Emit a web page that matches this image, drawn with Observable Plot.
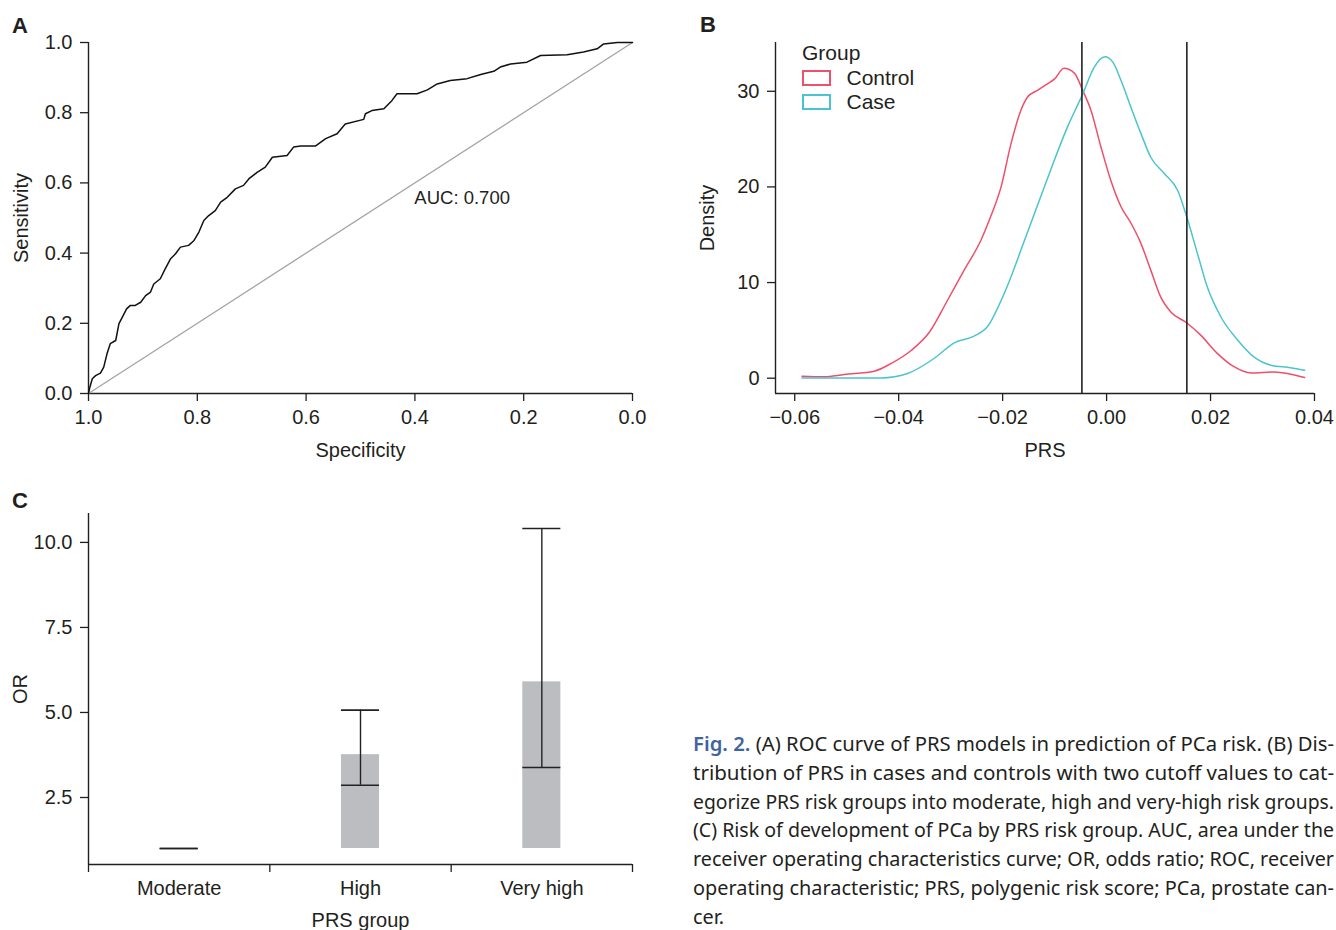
<!DOCTYPE html>
<html>
<head>
<meta charset="utf-8">
<script src="https://cdn.jsdelivr.net/npm/d3@7"></script>
<script src="https://cdn.jsdelivr.net/npm/@observablehq/plot@0.6"></script>
<style>
html, body { margin: 0; padding: 0; background: #fff; }
#root { position: relative; width: 1336px; height: 930px; overflow: hidden; font-family: "Liberation Sans", Arial, Helvetica, sans-serif; color: #231f20; background: #fff; }
.panel { position: absolute; }
.letter { position: absolute; font-weight: bold; font-size: 22px; line-height: 22px; }
.leg { position: absolute; font-size: 21px; line-height: 22px; white-space: nowrap; }
.sw { position: absolute; box-sizing: border-box; border-width: 2px; border-style: solid; background: #fff; }
</style>
</head>
<body>
<div id="root"></div>
<script>
// ---------- DATA ----------
// Panel A: ROC curve (specificity, sensitivity)
const rocPoints = [
  [1.000,0.000],[0.9975,0.018],[0.993,0.042],[0.987,0.051],[0.978,0.058],[0.972,0.075],
  [0.966,0.113],[0.960,0.142],[0.950,0.151],[0.944,0.199],[0.938,0.217],[0.930,0.241],
  [0.923,0.251],[0.914,0.251],[0.904,0.260],[0.895,0.279],[0.886,0.289],[0.880,0.312],
  [0.868,0.327],[0.859,0.355],[0.849,0.384],[0.840,0.398],[0.831,0.417],[0.816,0.422],
  [0.806,0.436],[0.797,0.460],[0.788,0.493],[0.779,0.507],[0.767,0.521],[0.757,0.545],
  [0.745,0.559],[0.730,0.583],[0.715,0.593],[0.705,0.612],[0.690,0.630],[0.675,0.645],
  [0.662,0.673],[0.635,0.678],[0.623,0.702],[0.610,0.705],[0.583,0.705],[0.564,0.726],
  [0.543,0.740],[0.528,0.768],[0.494,0.781],[0.491,0.797],[0.479,0.806],[0.457,0.811],
  [0.442,0.835],[0.433,0.854],[0.396,0.854],[0.377,0.865],[0.359,0.882],[0.335,0.892],
  [0.304,0.897],[0.279,0.909],[0.255,0.918],[0.243,0.930],[0.224,0.939],[0.194,0.944],
  [0.169,0.963],[0.120,0.965],[0.090,0.973],[0.065,0.982],[0.053,0.996],[0.028,1.000],
  [0.000,1.000]
];
const chanceLine = [[1,0],[0,1]];
const aucLabel = {text: "AUC: 0.700", spec: 0.401, sens: 0.558};
const specTicks = [1.0, 0.8, 0.6, 0.4, 0.2, 0.0];
const sensTicks = [0.0, 0.2, 0.4, 0.6, 0.8, 1.0];

// Panel B: PRS density by group (PRS, density)
const seriesNames = ["Control", "Case"];
const densityControl = [
  [-0.0586,0.20],[-0.0543,0.14],[-0.0505,0.39],[-0.0447,0.73],[-0.0415,1.53],[-0.0376,2.9],
  [-0.0341,4.8],[-0.0306,8.15],[-0.0274,11.3],[-0.0242,14.4],[-0.0223,16.9],[-0.0203,20.0],
  [-0.0184,24.5],[-0.0165,28.0],[-0.0152,29.4],[-0.0133,30.1],[-0.0113,30.8],[-0.0100,31.3],
  [-0.0082,32.4],[-0.0062,31.9],[-0.0046,30.1],[-0.0030,28.0],[-0.0011,24.2],[0.0008,20.7],
  [0.0028,17.9],[0.0047,16.2],[0.0066,14.1],[0.0085,11.3],[0.0104,8.5],[0.0124,6.9],
  [0.0154,5.8],[0.0181,4.5],[0.0213,2.6],[0.0245,1.2],[0.0278,0.55],[0.0322,0.66],
  [0.0354,0.42],[0.0381,0.07]
];
const densityCase = [
  [-0.0586,0.03],[-0.0434,0.03],[-0.0383,0.49],[-0.0332,2.06],[-0.0293,3.7],[-0.0255,4.4],
  [-0.0229,5.4],[-0.0197,8.85],[-0.0158,14.4],[-0.0130,18.5],[-0.0104,22.3],[-0.0075,26.3],
  [-0.0046,29.7],[-0.0024,32.5],[-0.0003,33.6],[0.0012,33.05],[0.0028,31.1],[0.0047,28.3],
  [0.0066,25.6],[0.0085,23.1],[0.0111,21.4],[0.0137,19.6],[0.0154,16.9],[0.0175,13.0],
  [0.0194,9.5],[0.0220,6.4],[0.0252,4.0],[0.0284,2.2],[0.0316,1.36],[0.0354,1.1],
  [0.0381,0.84]
];
const cutoffs = [-0.00475, 0.01544];
const prsTicks = [-0.06, -0.04, -0.02, 0.00, 0.02, 0.04];
const densityTicks = [0, 10, 20, 30];

// Panel C: odds ratios by PRS group
const groups = ["Moderate", "High", "Very high"];
const orValues = [1.0, 3.76, 5.90];
const ciLower = [1.0, 2.86, 3.38];
const ciUpper = [1.0, 5.07, 10.41];
const orBaseline = 1;
const orTicks = [2.5, 5.0, 7.5, 10.0];

// Caption
const captionLabel = "Fig. 2.";
const captionLines = [
  "(A) ROC curve of PRS models in prediction of PCa risk. (B) Dis-",
  "tribution of PRS in cases and controls with two cutoff values to cat-",
  "egorize PRS risk groups into moderate, high and very-high risk groups.",
  "(C) Risk of development of PCa by PRS risk group. AUC, area under the",
  "receiver operating characteristics curve; OR, odds ratio; ROC, receiver",
  "operating characteristic; PRS, polygenic risk score; PCa, prostate can-",
  "cer."
];

// ---------- STYLE ----------
const FONT = '"Liberation Sans", Arial, Helvetica, sans-serif';
const INK = "#231f20";
const RED = "#ee4f6b";
const CYAN = "#4ac4ce";
const baseStyle = {fontFamily: FONT, fontSize: "20px", color: INK, background: "transparent", overflow: "visible"};

const root = document.getElementById("root");
function place(el, left, top) {
  const w = document.createElement("div");
  w.className = "panel";
  w.style.left = left + "px";
  w.style.top = top + "px";
  w.appendChild(el);
  root.appendChild(w);
}
function addDiv(cls, text, left, top, extra) {
  const d = document.createElement("div");
  d.className = cls;
  d.textContent = text;
  d.style.left = left + "px";
  d.style.top = top + "px";
  if (extra) Object.assign(d.style, extra);
  root.appendChild(d);
  return d;
}

// ---------- PANEL A ----------
const roc = rocPoints.map(([spec, sens]) => ({spec, sens}));
const chance = chanceLine.map(([spec, sens]) => ({spec, sens}));
const fmt1 = d3.format(".1f");
const plotA = Plot.plot({
  width: 660, height: 470,
  marginLeft: 88, marginRight: 28, marginTop: 42, marginBottom: 77,
  style: baseStyle,
  x: {domain: [1, 0]},
  y: {domain: [0, 1]},
  marks: [
    Plot.axisX({ticks: specTicks, tickFormat: fmt1, tickSize: 8, tickPadding: 8, strokeWidth: 1.3,
      fontSize: 20, label: "Specificity", labelAnchor: "center", labelOffset: 63, labelArrow: "none"}),
    Plot.axisY({ticks: sensTicks, tickFormat: fmt1, tickSize: 8, tickPadding: 8, strokeWidth: 1.3,
      fontSize: 20, label: "Sensitivity", labelAnchor: "center", labelOffset: 75, labelArrow: "none"}),
    Plot.ruleX([specTicks[0]], {stroke: INK, strokeWidth: 1.4}),
    Plot.ruleY([sensTicks[0]], {stroke: INK, strokeWidth: 1.4}),
    Plot.line(chance, {x: "spec", y: "sens", stroke: "#a3a3a3", strokeWidth: 1.3}),
    Plot.line(roc, {x: "spec", y: "sens", stroke: "#111", strokeWidth: 1.5}),
    Plot.text([aucLabel], {x: "spec", y: "sens", text: "text", textAnchor: "start", fontSize: 18.5, fill: INK})
  ]
});
place(plotA, 0, 0);

// ---------- PANEL B ----------
const dens = [
  ...densityControl.map(([prs, density]) => ({prs, density, group: seriesNames[0]})),
  ...densityCase.map(([prs, density]) => ({prs, density, group: seriesNames[1]}))
];
const xDomainB = [-0.0637, 0.04];
const yDomainB = [-1.6, 35.1];
const plotB = Plot.plot({
  width: 656, height: 470,
  marginLeft: 95, marginRight: 22, marginTop: 42, marginBottom: 77,
  style: baseStyle,
  x: {domain: xDomainB},
  y: {domain: yDomainB},
  color: {domain: seriesNames, range: [RED, CYAN]},
  marks: [
    Plot.axisX({ticks: prsTicks, tickFormat: d3.format(".2f"), tickSize: 8, tickPadding: 8, strokeWidth: 1.3,
      fontSize: 20, label: "PRS", labelAnchor: "center", labelOffset: 63, labelArrow: "none"}),
    Plot.axisY({ticks: densityTicks, tickFormat: d3.format("d"), tickSize: 8, tickPadding: 8, strokeWidth: 1.3,
      fontSize: 20, label: "Density", labelAnchor: "center", labelOffset: 76, labelArrow: "none"}),
    Plot.ruleX([xDomainB[0]], {stroke: INK, strokeWidth: 1.4}),
    Plot.ruleY([yDomainB[0]], {stroke: INK, strokeWidth: 1.4}),
    Plot.line(dens, {x: "prs", y: "density", stroke: "group", z: "group", strokeWidth: 1.5, curve: "monotone-x"}),
    Plot.ruleX(cutoffs, {stroke: "#222", strokeWidth: 1.6})
  ]
});
place(plotB, 680, 0);

// legend for panel B
addDiv("leg", "Group", 802, 41.5);
const swColors = [RED, CYAN];
const swTops = [70, 94];
seriesNames.forEach((name, i) => {
  const sw = document.createElement("div");
  sw.className = "sw";
  Object.assign(sw.style, {left: "802px", top: swTops[i] + "px", width: "29px", height: "16px", borderColor: swColors[i]});
  root.appendChild(sw);
  addDiv("leg", name, 846.5, swTops[i] - 3);
});

// ---------- PANEL C ----------
const orData = groups.map((g, i) => ({g, i, or: orValues[i], lo: ciLower[i], hi: ciUpper[i]}));
const half = 0.105;
const yDomainC = [0.53, 10.85];
const plotC = Plot.plot({
  width: 660, height: 450,
  marginLeft: 88, marginRight: 28, marginTop: 33, marginBottom: 66,
  style: baseStyle,
  x: {domain: [0, groups.length]},
  y: {domain: yDomainC},
  marks: [
    Plot.axisX({ticks: d3.range(groups.length + 1), tickFormat: () => "", tickSize: 8, strokeWidth: 1.3, label: null}),
    Plot.axisX({ticks: groups.map((g, i) => i + 0.5), tickFormat: d => groups[Math.floor(d)], tickSize: 0, tickPadding: 16,
      fontSize: 20, label: "PRS group", labelAnchor: "center", labelOffset: 62, labelArrow: "none"}),
    Plot.axisY({ticks: orTicks, tickFormat: fmt1, tickSize: 8, tickPadding: 8, strokeWidth: 1.3,
      fontSize: 20, label: "OR", labelAnchor: "center", labelOffset: 76, labelArrow: "none"}),
    Plot.rectY(orData.filter(d => d.or > orBaseline), {x1: d => d.i + 0.5 - half, x2: d => d.i + 0.5 + half, y1: orBaseline, y2: "or", fill: "#bcbdc1"}),
    Plot.ruleX(orData, {x: d => d.i + 0.5, y1: "lo", y2: "hi", stroke: "#222", strokeWidth: 1.4}),
    Plot.ruleY(orData, {y: "lo", x1: d => d.i + 0.5 - half, x2: d => d.i + 0.5 + half, stroke: "#222", strokeWidth: 1.6}),
    Plot.ruleY(orData, {y: "hi", x1: d => d.i + 0.5 - half, x2: d => d.i + 0.5 + half, stroke: "#222", strokeWidth: 1.6}),
    Plot.ruleX([0], {stroke: INK, strokeWidth: 1.4}),
    Plot.ruleY([yDomainC[0]], {stroke: INK, strokeWidth: 1.4})
  ]
});
place(plotC, 0, 480);

// panel letters
addDiv("letter", "A", 12, 14.7);
addDiv("letter", "B", 700, 14);
addDiv("letter", "C", 12, 490.3);

// ---------- CAPTION ----------
const cap = document.createElement("div");
Object.assign(cap.style, {position: "absolute", left: "693px", top: "735px", fontFamily: '"Noto Sans", "Open Sans", sans-serif',
  fontSize: "20.5px", lineHeight: "16px", color: INK});
captionLines.forEach((t, i) => {
  const line = document.createElement("div");
  Object.assign(line.style, {whiteSpace: "nowrap", width: "max-content", transformOrigin: "0 50%", marginBottom: "12.8px"});
  if (i === captionLines.length - 1) line.style.marginBottom = "0px";
  if (i === 0) {
    const b = document.createElement("span");
    b.textContent = captionLabel;
    Object.assign(b.style, {color: "#3f64a0", fontWeight: "600"});
    line.appendChild(b);
    line.appendChild(document.createTextNode(" " + t));
  } else {
    line.textContent = t;
  }
  cap.appendChild(line);
});
root.appendChild(cap);
const lineEls = [...cap.children];
const widths = lineEls.map(l => l.getBoundingClientRect().width);
const target = 641;
const scales = widths.map(w => target / w);
const avgScale = d3.mean(scales.slice(0, -1));
lineEls.forEach((l, i) => {
  const s = i < lineEls.length - 1 ? scales[i] : avgScale;
  l.style.transform = `scaleX(${s})`;
});
</script>
</body>
</html>
